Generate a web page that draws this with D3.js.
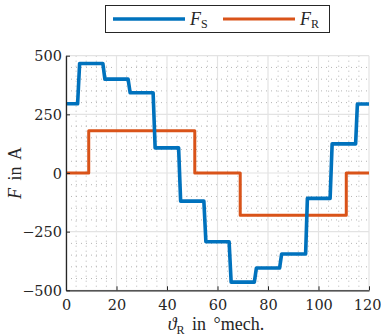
<!DOCTYPE html>
<html><head><meta charset="utf-8">
<script src="https://cdn.jsdelivr.net/npm/d3@7"></script>
<style>body{margin:0;background:#fff}svg{display:block}</style>
</head><body>
<script>
// data
const xTicks = [0, 20, 40, 60, 80, 100, 120];
const yTicks = [-500, -250, 0, 250, 500];
const fsX = [0, 4.6, 5.4, 14.6, 15.4, 24.6, 25.4, 34.5, 35.3, 44.6, 45.4, 54.6, 55.4, 64.6, 65.4, 74.6, 75.4, 84.6, 85.4, 94.9, 95.6, 104.6, 105.4, 114.7, 115.4, 120];
const fsY = [295, 295, 467, 467, 400, 400, 342, 342, 107, 107, -120, -120, -293, -293, -465, -465, -405, -405, -345, -345, -108, -108, 124, 124, 294, 294];
const frX = [0, 9, 9, 51, 51, 69, 69, 111, 111, 120];
const frY = [0, 0, 180, 180, 0, 0, -180, -180, 0, 0];

const W = 381, H = 336;
const L = 66, R = 369, T = 55.7, B = 290.3;
const FS = 18;
const SERIF = '"Liberation Serif", serif';
const NUMF = '"DejaVu Serif"';
const INK = "#262626";
const svg = d3.select("body").append("svg").attr("width", W).attr("height", H);
const x = d3.scaleLinear().domain([0, 120]).range([L, R]);
const y = d3.scaleLinear().domain([-500, 500]).range([B, T]);

// minor grid
const xMinor = d3.range(0, 121, 4).filter(v => v % 20 !== 0);
const yMinor = d3.range(-500, 501, 50).filter(v => v % 250 !== 0);
const g = svg.append("g");
g.selectAll(".mx").data(xMinor).join("line")
  .attr("x1", d => x(d)).attr("x2", d => x(d)).attr("y1", T).attr("y2", B)
  .attr("stroke", "#b5b5b5").attr("stroke-width", 1).attr("stroke-dasharray", "1,4");
g.selectAll(".my").data(yMinor).join("line")
  .attr("y1", d => y(d)).attr("y2", d => y(d)).attr("x1", L).attr("x2", R)
  .attr("stroke", "#b5b5b5").attr("stroke-width", 1).attr("stroke-dasharray", "1,4");
// major grid
g.selectAll(".gx").data(xTicks).join("line")
  .attr("x1", d => x(d)).attr("x2", d => x(d)).attr("y1", T).attr("y2", B)
  .attr("stroke", "#e3e3e3").attr("stroke-width", 1.2);
g.selectAll(".gy").data(yTicks).join("line")
  .attr("y1", d => y(d)).attr("y2", d => y(d)).attr("x1", L).attr("x2", R)
  .attr("stroke", "#e3e3e3").attr("stroke-width", 1.2);

// lines
const line = d3.line().x(d => x(d[0])).y(d => y(d[1]));
svg.append("path").datum(frX.map((v, i) => [v, frY[i]])).attr("d", line)
  .attr("fill", "none").attr("stroke", "#D95319").attr("stroke-width", 3).attr("stroke-linejoin", "round");
svg.append("path").datum(fsX.map((v, i) => [v, fsY[i]])).attr("d", line)
  .attr("fill", "none").attr("stroke", "#0072BD").attr("stroke-width", 3.6).attr("stroke-linejoin", "round");

// axes
const xAxis = d3.axisBottom(x).tickValues(xTicks).tickSizeInner(-4).tickSizeOuter(0);
const yAxis = d3.axisLeft(y).tickValues(yTicks).tickSizeInner(-4).tickSizeOuter(0).tickPadding(4);
const gx = svg.append("g").attr("transform", `translate(0,${B})`).call(xAxis);
const gy = svg.append("g").attr("transform", `translate(${L},0)`).call(yAxis);
[gx, gy].forEach(a => {
  a.attr("font-family", NUMF).attr("font-size", 14.5);
  a.select(".domain").attr("stroke", INK).attr("stroke-width", 1.3);
  a.selectAll(".tick line").attr("stroke", INK).attr("stroke-width", 1);
  a.selectAll(".tick text").style("font-family", NUMF).style("font-size", "14.5px").attr("fill", INK);
});
gx.selectAll(".tick text").attr("y", 0).attr("dy", null).attr("transform", "translate(0,20)");
gx.selectAll(".tick text").filter(d => d === 120).attr("text-anchor", "end").attr("transform", "translate(12,20)");
gy.selectAll(".tick text").attr("dy", "0.36em");

// axis titles
const xt = svg.append("text").attr("x", 216).attr("y", 330).attr("text-anchor", "middle")
  .style("font-family", SERIF).style("font-size", FS + "px").style("word-spacing", "3px").attr("fill", INK);
xt.append("tspan").attr("font-style", "italic").text("ϑ");
xt.append("tspan").style("font-size", "12px").attr("dy", 4).text("R");
xt.append("tspan").attr("dy", -4).text(" in °mech.");
const yt = svg.append("text").attr("transform", `translate(21,${(T + B) / 2}) rotate(-90)`).attr("text-anchor", "middle")
  .style("font-family", SERIF).style("font-size", FS + "px").style("word-spacing", "3px").attr("fill", INK);
yt.append("tspan").attr("font-style", "italic").text("F");
yt.append("tspan").text(" in A");

// legend
const lg = svg.append("g");
lg.append("rect").attr("x", 105.5).attr("y", 5.5).attr("width", 224).attr("height", 27)
  .attr("fill", "#fff").attr("stroke", INK).attr("stroke-width", 1);
const items = [{n: "S", c: "#0072BD", x0: 113, w: 3.6}, {n: "R", c: "#D95319", x0: 223, w: 3}];
items.forEach(it => {
  lg.append("line").attr("x1", it.x0).attr("x2", it.x0 + 72).attr("y1", 19).attr("y2", 19)
    .attr("stroke", it.c).attr("stroke-width", it.w);
  const t = lg.append("text").attr("x", it.x0 + 77).attr("y", 25)
    .style("font-family", SERIF).style("font-size", FS + "px").attr("fill", INK);
  t.append("tspan").attr("font-style", "italic").text("F");
  t.append("tspan").style("font-size", "12px").attr("dy", 3).text(it.n);
});
</script>
</body></html>
